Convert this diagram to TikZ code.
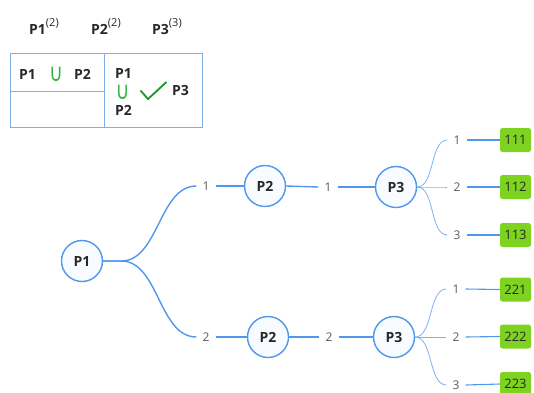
\documentclass[tikz,border=0pt]{standalone}
\usepackage{fontspec}
\setmainfont{Open Sans}
\newfontfamily\symfont{DejaVu Sans}
\definecolor{lnblue}{RGB}{80,152,236}
\definecolor{tblblue}{RGB}{125,175,235}
\definecolor{leafgreen}{RGB}{126,211,33}
\definecolor{labgray}{RGB}{90,90,90}
\definecolor{txt}{RGB}{40,40,40}
\definecolor{cupgreen}{RGB}{50,180,70}
\definecolor{chkgreen}{RGB}{25,150,35}
\definecolor{circfill}{RGB}{248,251,255}
\newcommand{\hdsup}[1]{\raisebox{8pt}{\fontsize{11}{12}\selectfont\mdseries #1}}
\newcommand{\tallcup}{\scalebox{1}[1.3]{∪}}
\begin{document}
\begin{tikzpicture}[x=1pt,y=-1pt,
  pnode/.style={circle,draw=lnblue,line width=1.4pt,fill=circfill,minimum size=41pt,inner sep=0pt,font=\fontsize{14}{15}\selectfont\bfseries,text=txt},
  lab/.style={font=\fontsize{12}{13}\selectfont,text=labgray,inner sep=6pt},
  leaf/.style={fill=leafgreen,rounded corners=2.5pt,minimum width=31pt,minimum height=24pt,inner sep=0pt,font=\fontsize{13}{14}\selectfont,text=txt},
  hd/.style={font=\fontsize{14}{15}\selectfont\bfseries,text=txt,inner sep=0pt,anchor=base west},
  cupsym/.style={font=\symfont\fontsize{19}{20}\selectfont,text=cupgreen,inner sep=0pt,anchor=base},
  conn/.style={draw=lnblue,line width=1.4pt},
  thin/.style={draw=lnblue!75,line width=0.8pt},
  tbl/.style={draw=tblblue,line width=0.8pt}]
\useasboundingbox (0,0) rectangle (534,392);
% header
\node[hd] (h1) at (29,34) {P1\hdsup{(2)}};
\node[hd] (h2) at (91,34) {P2\hdsup{(2)}};
\node[hd] (h3) at (152,34) {P3\hdsup{(3)}};
% table
\draw[tbl] (10,53) rectangle (202,127);
\draw[tbl] (104,53) -- (104,127);
\draw[tbl] (10,91) -- (104,91);
\node[hd] (t1) at (19,79) {P1};
\node[cupsym] (tu) at (56,81.5) {\tallcup};
\node[hd] (t2) at (74,79) {P2};
\node[hd] (r1) at (115,78) {P1};
\node[cupsym] (ru) at (122.5,99) {\tallcup};
\node[hd] (r2) at (115,115) {P2};
\draw[chkgreen,line width=1.8pt] (140.5,90.5) -- (148,99) -- (166.5,82);
\node[hd] (r3) at (172,95) {P3};
% tree
\node[pnode] (p1) at (82,261) {P1};
\node[pnode] (p2a) at (265,186) {P2};
\node[pnode] (p2b) at (268,337) {P2};
\node[pnode] (p3a) at (396,187) {P3};
\node[pnode] (p3b) at (394,337) {P3};
\node[lab] (la) at (206,186) {1};
\node[lab] (lb) at (206,337) {2};
\node[lab] (lc) at (328,187) {1};
\node[lab] (ld) at (329,337) {2};
\draw[conn] (p1.east) -- ++(18,0) to[out=0,in=180,looseness=0.9] (la.west);
\draw[conn] (p1.east) -- ++(18,0) to[out=0,in=180,looseness=0.9] (lb.west);
\draw[conn] (la.east) -- (p2a.west);
\draw[conn] (lb.east) -- (p2b.west);
\draw[conn] (p2a.east) -- (lc.west);
\draw[conn] (p2b.east) -- (ld.west);
\draw[conn] (lc.east) -- (p3a.west);
\draw[conn] (ld.east) -- (p3b.west);
% leaves upper
\node[lab] (m1) at (457,140) {1};
\node[lab] (m2) at (457,187) {2};
\node[lab] (m3) at (457,235) {3};
\node[leaf] (g1) at (515.5,140) {111};
\node[leaf] (g2) at (515.5,187) {112};
\node[leaf] (g3) at (515.5,235) {113};
\foreach \i in {1,2,3}{
  \draw[thin] (p3a.east) to[out=0,in=180,looseness=0.8] (m\i.west);
  \draw[conn,line width=1.1pt] (m\i.east) -- (g\i.west);
}
% leaves lower
\node[lab] (n1) at (456,289) {1};
\node[lab] (n2) at (456,337) {2};
\node[lab] (n3) at (456,385) {3};
\node[leaf] (k1) at (515.5,289.5) {221};
\node[leaf] (k2) at (515.5,336.5) {222};
\node[leaf] (k3) at (515.5,384) {223};
\foreach \i in {1,2,3}{
  \draw[thin] (p3b.east) to[out=0,in=180,looseness=0.8] (n\i.west);
  \draw[conn,line width=1.1pt] (n\i.east) -- (k\i.west);
}
\end{tikzpicture}
\end{document}
